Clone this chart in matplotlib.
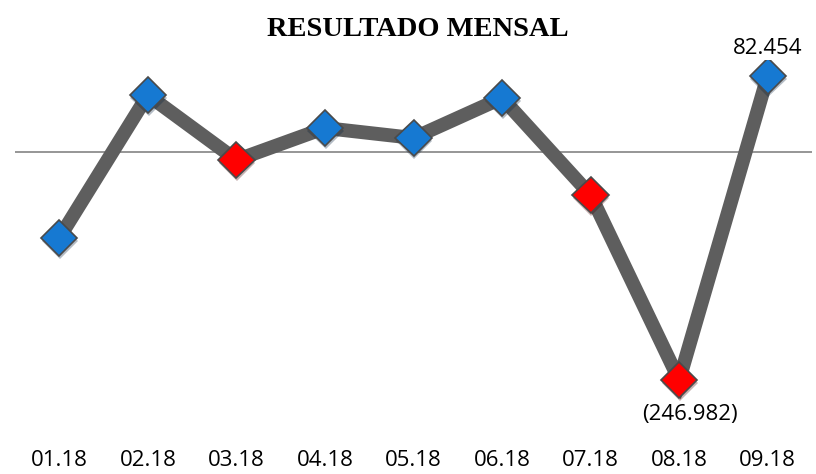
import numpy as np
import matplotlib.pyplot as plt
import matplotlib.patheffects as pe

meses = ['01.18', '02.18', '03.18', '04.18', '05.18', '06.18', '07.18', '08.18', '09.18']
resultado = [-93000, 61700, -8700, 26000, 15200, 58500, -46600, -246982, 82454]
cores = ['#1679d2', '#1679d2', '#ff0000', '#1679d2', '#1679d2', '#1679d2', '#ff0000', '#ff0000', '#1679d2']
rotulos = {7: '(246.982)', 8: '82.454'}

W, H = 816, 474
fig = plt.figure(figsize=(W / 100, H / 100), dpi=100)
# axes placed in pixel units: left 15, right 812, top 60, bottom 445
ax = fig.add_axes([15 / W, 1 - 445 / H, (812 - 15) / W, (445 - 60) / H])

px = 1083.0  # value per pixel
ax.set_ylim(-(445 - 152) * px, (152 - 60) * px)
ax.set_xlim(-0.5, len(meses) - 0.5)

x = np.arange(len(meses))
ax.axhline(0, color='#8e8e8e', lw=1.3, zorder=1)
ax.plot(x, resultado, color='#5e5e5e', lw=10, solid_joinstyle='miter', zorder=2)

sombra = [pe.SimplePatchShadow(offset=(0.5, -2), alpha=0.3), pe.Normal()]
for i in range(len(meses)):
    ax.plot(x[i], resultado[i], marker='D', ms=18.5, mfc=cores[i], mec='#4a4a4a',
            mew=1.2, zorder=3, path_effects=sombra)

for i, txt in rotulos.items():
    if resultado[i] < 0:
        ax.annotate(txt, (x[i], resultado[i]), xytext=(8, -17), textcoords='offset points',
                    ha='center', va='top', fontsize=16, family='Open Sans')
    else:
        ax.annotate(txt, (x[i], resultado[i]), xytext=(0, 12), textcoords='offset points',
                    ha='center', va='bottom', fontsize=16, family='Open Sans')

ax.set_xticks(x)
ax.set_xticklabels(meses, fontsize=16, family='Open Sans')
ax.tick_params(axis='x', length=0, pad=3.5)
ax.set_yticks([])
for s in ax.spines.values():
    s.set_visible(False)

fig.text(418 / W, 1 - 30 / H, 'RESULTADO MENSAL', ha='center', va='center',
         fontsize=20.5, fontweight='bold', family='Liberation Serif')

fig.savefig('out.png', dpi=100)
